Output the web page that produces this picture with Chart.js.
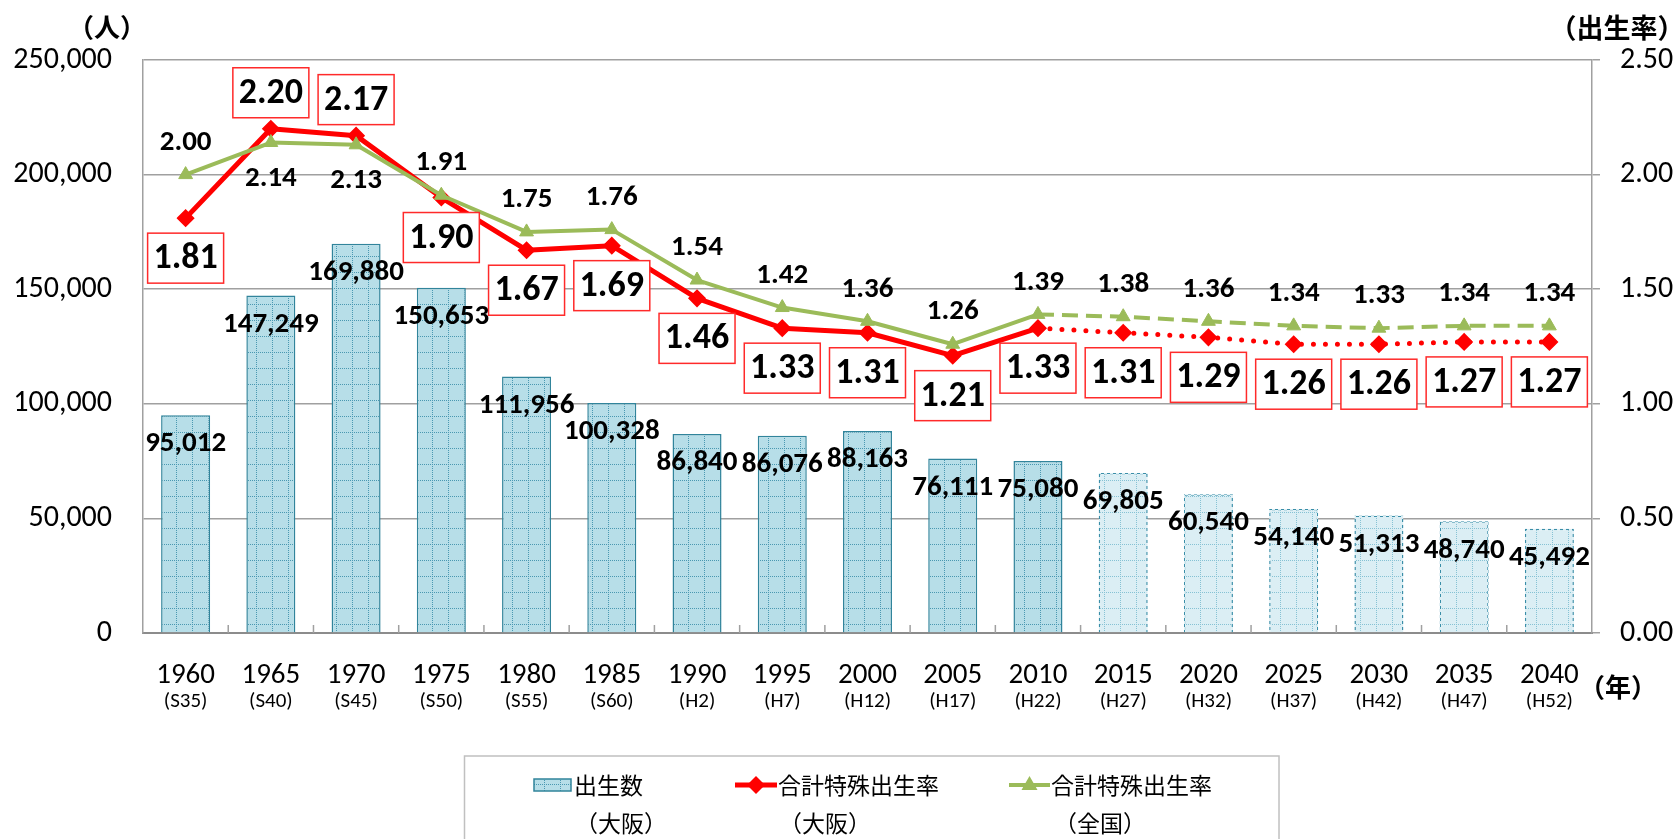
<!DOCTYPE html>
<html>
<head>
<meta charset="utf-8">
<script src="https://cdn.jsdelivr.net/npm/chart.js"></script>
<style>
  html, body { margin: 0; padding: 0; background: #fff; }
  #wrap { width: 1680px; height: 839px; }
</style>
</head>
<body>
<div id="wrap"><canvas id="chart" width="1680" height="839"></canvas></div>
<script>
// --- data ---
const years = ['1960', '1965', '1970', '1975', '1980', '1985', '1990', '1995', '2000',
               '2005', '2010', '2015', '2020', '2025', '2030', '2035', '2040'];
const eras = ['(S35)', '(S40)', '(S45)', '(S50)', '(S55)', '(S60)', '(H2)', '(H7)', '(H12)',
              '(H17)', '(H22)', '(H27)', '(H32)', '(H37)', '(H42)', '(H47)', '(H52)'];
const births = [95012, 147249, 169880, 150653, 111956, 100328, 86840, 86076, 88163,
                76111, 75080, 69805, 60540, 54140, 51313, 48740, 45492];
const osakaRate = [1.81, 2.20, 2.17, 1.90, 1.67, 1.69, 1.46, 1.33, 1.31,
                   1.21, 1.33, 1.31, 1.29, 1.26, 1.26, 1.27, 1.27];
const nationalRate = [2.00, 2.14, 2.13, 1.91, 1.75, 1.76, 1.54, 1.42, 1.36,
                      1.26, 1.39, 1.38, 1.36, 1.34, 1.33, 1.34, 1.34];
const lastActual = 10; // 2010 is the last actual figure, the rest are projections

// label placement tweaks
const osakaLabelAbove = [1, 2];
const nationalLabelBelow = [1, 2];

const FONT = "Carlito, Lato, 'Noto Sans CJK JP', sans-serif";
const CJK = "'Noto Sans CJK JP', sans-serif";
const RED = '#ff0000';
const GREEN = '#9bbb59';
const TEAL = '#31849b';
const GRID = '#a0a0a0';

Chart.defaults.font.family = FONT;
Chart.defaults.color = '#000';

function makeGridPattern(bg, dot) {
    const c = document.createElement('canvas');
    c.width = 16; c.height = 16;
    const g = c.getContext('2d');
    g.fillStyle = bg;
    g.fillRect(0, 0, 16, 16);
    g.fillStyle = dot;
    for (let i = 0; i < 16; i += 2) {
        g.fillRect(i, 0, 1, 1);
        g.fillRect(0, i, 1, 1);
    }
    return g.createPattern(c, 'repeat');
}

function makeChecker(on, off) {
    const c = document.createElement('canvas');
    c.width = 6; c.height = 6;
    const g = c.getContext('2d');
    g.fillStyle = off;
    g.fillRect(0, 0, 6, 6);
    g.fillStyle = on;
    g.fillRect(0, 0, 3, 3);
    g.fillRect(3, 3, 3, 3);
    return g.createPattern(c, 'repeat');
}

const solidFill = makeGridPattern('#b7dee8', '#4a98b1');
const projFill = makeGridPattern('#dbeef4', '#86c2d4');
const projBorder = makeChecker('#3a8ea8', '#dbeef4');

const isProj = c => c.p0DataIndex >= lastActual;

// --- labels, boxes, titles, legend ---
const decorations = {
    id: 'decorations',
    afterDatasetsDraw(chart) {
        const ctx = chart.ctx;
        ctx.save();
        ctx.textAlign = 'center';
        ctx.textBaseline = 'middle';
        ctx.fillStyle = '#000';

        // bar values
        ctx.font = 'bold 29px ' + FONT;
        chart.getDatasetMeta(2).data.forEach((el, i) => {
            ctx.fillText(births[i].toLocaleString('en-US'), el.x, el.y + 29);
        });

        // national rate
        ctx.font = 'bold 29px ' + FONT;
        chart.getDatasetMeta(0).data.forEach((el, i) => {
            const dy = nationalLabelBelow.includes(i) ? 36 : -32;
            ctx.fillText(nationalRate[i].toFixed(2), el.x, el.y + dy);
        });

        // osaka rate, boxed
        ctx.font = 'bold 36px ' + FONT;
        chart.getDatasetMeta(1).data.forEach((el, i) => {
            const cy = el.y + (osakaLabelAbove.includes(i) ? -36 : 40);
            ctx.fillStyle = '#fff';
            ctx.fillRect(el.x - 38, cy - 25, 76, 50);
            ctx.strokeStyle = '#ff2a2a';
            ctx.lineWidth = 1.5;
            ctx.strokeRect(el.x - 38, cy - 25, 76, 50);
            ctx.fillStyle = '#000';
            ctx.fillText(osakaRate[i].toFixed(2), el.x, cy + 1);
        });
        ctx.restore();
    },
    afterDraw(chart) {
        const ctx = chart.ctx;
        const xs = chart.scales.x;
        const area = chart.chartArea;
        ctx.save();

        // inward tick marks on the category axis
        ctx.strokeStyle = GRID;
        ctx.lineWidth = 1.5;
        for (let i = 1; i < years.length; i++) {
            const bx = (xs.getPixelForValue(i - 1) + xs.getPixelForValue(i)) / 2;
            ctx.beginPath();
            ctx.moveTo(bx, area.bottom);
            ctx.lineTo(bx, area.bottom - 8);
            ctx.stroke();
        }

        // era sub labels
        ctx.fillStyle = '#000';
        ctx.textAlign = 'center';
        ctx.textBaseline = 'middle';
        ctx.font = '21px ' + FONT;
        eras.forEach((e, i) => ctx.fillText(e, xs.getPixelForValue(i), area.bottom + 69));

        // axis titles
        ctx.font = 'bold 26px ' + CJK;
        ctx.fillText('（人）', 107, 27);
        ctx.fillText('（年）', 1618, 687);
        ctx.font = 'bold 27px ' + CJK;
        ctx.fillText('（出生率）', 1617, 28);

        // legend
        ctx.strokeStyle = '#c0c0c0';
        ctx.lineWidth = 1.5;
        ctx.strokeRect(464.5, 756, 814.5, 100);

        const row1 = 785, row2 = 823;
        // bar swatch
        ctx.fillStyle = solidFill;
        ctx.fillRect(534, row1 - 6, 37, 12);
        ctx.strokeStyle = TEAL;
        ctx.lineWidth = 1.5;
        ctx.strokeRect(534, row1 - 6, 37, 12);
        // red line + diamond
        ctx.strokeStyle = RED;
        ctx.lineWidth = 5;
        ctx.beginPath(); ctx.moveTo(735, row1); ctx.lineTo(777, row1); ctx.stroke();
        ctx.fillStyle = RED;
        ctx.beginPath();
        ctx.moveTo(756 - 9, row1); ctx.lineTo(756, row1 - 9);
        ctx.lineTo(756 + 9, row1); ctx.lineTo(756, row1 + 9);
        ctx.closePath(); ctx.fill();
        // green line + triangle
        ctx.strokeStyle = GREEN;
        ctx.lineWidth = 4;
        ctx.beginPath(); ctx.moveTo(1009, row1); ctx.lineTo(1050, row1); ctx.stroke();
        ctx.fillStyle = GREEN;
        ctx.beginPath();
        ctx.moveTo(1029.5, row1 - 9); ctx.lineTo(1037.5, row1 + 5); ctx.lineTo(1021.5, row1 + 5);
        ctx.closePath(); ctx.fill();

        ctx.fillStyle = '#000';
        ctx.font = '23px ' + CJK;
        ctx.textAlign = 'left';
        ctx.fillText('出生数', 574, row1);
        ctx.fillText('合計特殊出生率', 778, row1);
        ctx.fillText('合計特殊出生率', 1051, row1);
        ctx.textAlign = 'center';
        ctx.fillText('（大阪）', 621, row2);
        ctx.fillText('（大阪）', 825, row2);
        ctx.fillText('（全国）', 1100, row2);
        ctx.restore();
    }
};

new Chart(document.getElementById('chart'), {
    type: 'bar',
    data: {
        labels: years,
        datasets: [
            {
                type: 'line',
                label: '合計特殊出生率（全国）',
                data: nationalRate,
                yAxisID: 'y1',
                order: 0,
                borderColor: GREEN,
                backgroundColor: GREEN,
                borderWidth: 4,
                borderJoinStyle: 'round',
                pointStyle: 'triangle',
                pointRadius: 8,
                pointBorderWidth: 1,
                pointBorderColor: GREEN,
                pointBackgroundColor: GREEN,
                tension: 0,
                segment: {
                    borderDash: c => isProj(c) ? [16, 8] : undefined
                }
            },
            {
                type: 'line',
                label: '合計特殊出生率（大阪）',
                data: osakaRate,
                yAxisID: 'y1',
                order: 1,
                borderColor: RED,
                backgroundColor: RED,
                borderWidth: 5,
                borderJoinStyle: 'round',
                pointStyle: 'rectRot',
                pointRadius: 8,
                pointBorderWidth: 1.5,
                pointBorderColor: RED,
                pointBackgroundColor: RED,
                tension: 0,
                segment: {
                    borderDash: c => isProj(c) ? [0, 12] : undefined,
                    borderCapStyle: c => isProj(c) ? 'round' : undefined
                }
            },
            {
                type: 'bar',
                label: '出生数（大阪）',
                data: births,
                yAxisID: 'y',
                order: 2,
                backgroundColor: c => c.dataIndex > lastActual ? projFill : solidFill,
                borderColor: c => c.dataIndex > lastActual ? projBorder : TEAL,
                borderWidth: 1.5,
                barPercentage: 0.575,
                categoryPercentage: 1
            }
        ]
    },
    options: {
        responsive: false,
        devicePixelRatio: 1,
        animation: false,
        events: [],
        layout: { padding: { top: 60, left: 0, right: 0, bottom: 0 } },
        plugins: {
            legend: { display: false },
            tooltip: { enabled: false }
        },
        scales: {
            x: {
                offset: true,
                grid: { display: false, drawTicks: false },
                border: { display: true, color: '#8c8c8c', width: 2 },
                ticks: { font: { size: 29 }, color: '#000', padding: 25, maxRotation: 0, autoSkip: false },
                afterFit: s => { s.height = 206; }
            },
            y: {
                position: 'left',
                min: 0,
                max: 250000,
                ticks: {
                    stepSize: 50000,
                    font: { size: 30 },
                    color: '#000',
                    padding: 31,
                    callback: v => v.toLocaleString('en-US')
                },
                grid: { color: GRID, lineWidth: 1.5, drawTicks: false },
                border: { color: GRID, width: 1.5 },
                afterFit: s => { s.width = 143; }
            },
            y1: {
                position: 'right',
                min: 0,
                max: 2.5,
                ticks: {
                    stepSize: 0.5,
                    font: { size: 30 },
                    color: '#000',
                    padding: 20,
                    callback: v => v.toFixed(2)
                },
                grid: { drawOnChartArea: false, drawTicks: true, tickLength: 8, color: GRID, lineWidth: 1.5 },
                border: { color: GRID, width: 1.5 },
                afterFit: s => { s.width = 88; }
            }
        }
    },
    plugins: [decorations]
});
</script>
</body>
</html>
